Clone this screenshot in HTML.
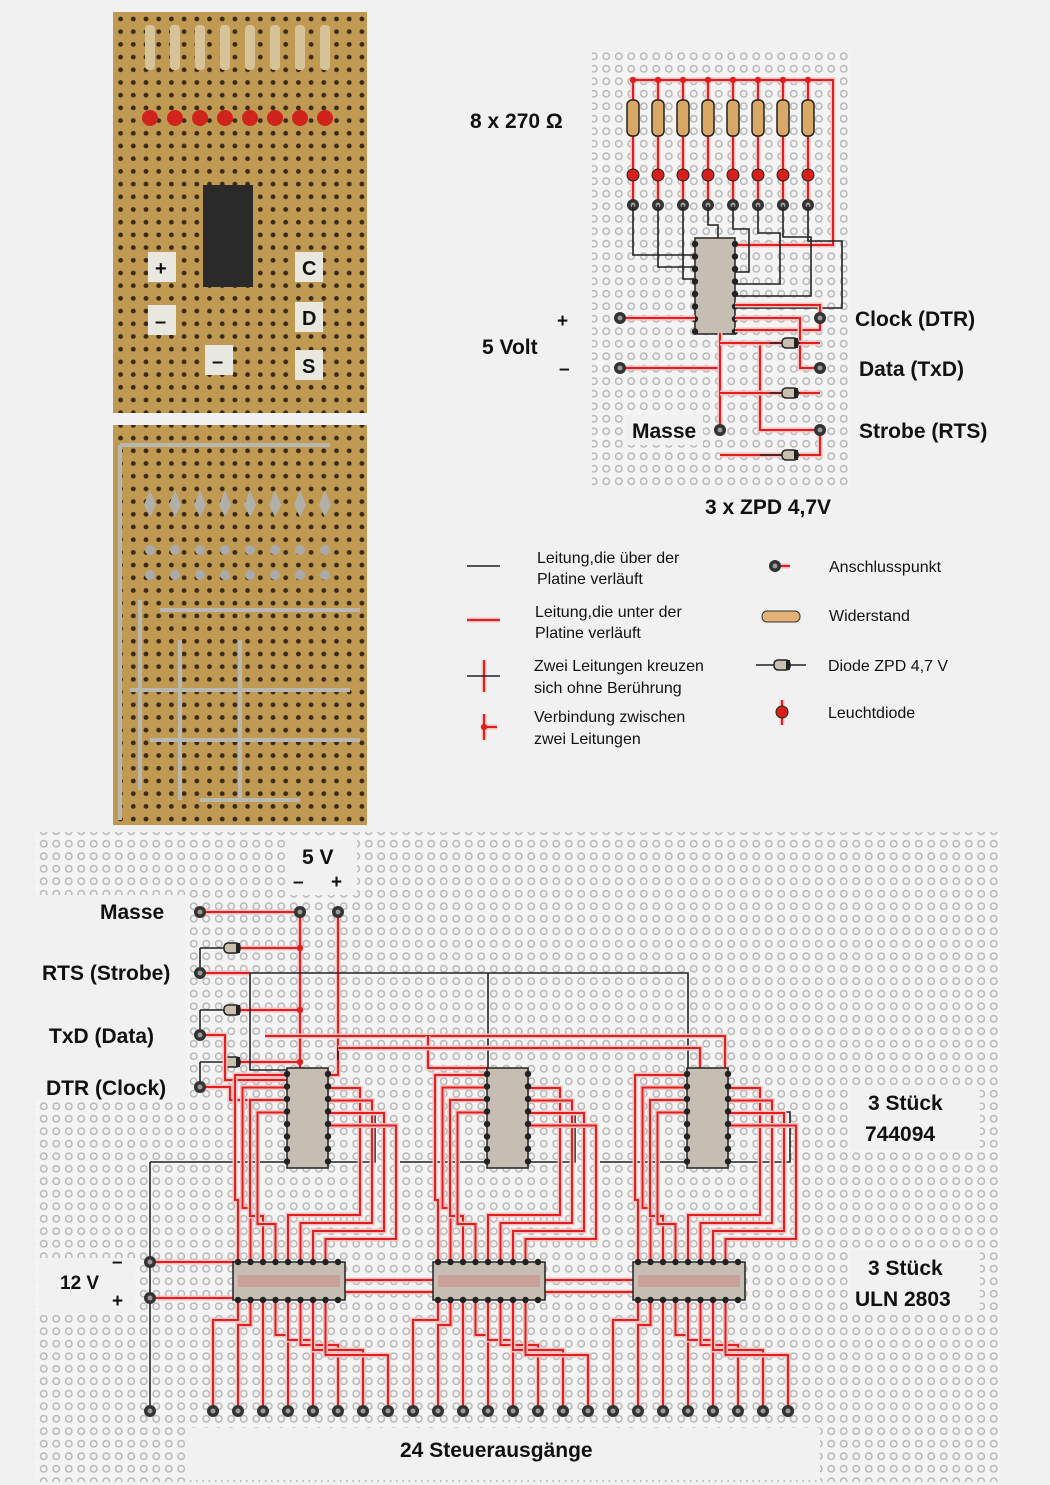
<!DOCTYPE html>
<html><head><meta charset="utf-8">
<style>
html,body{margin:0;padding:0;background:#f1f1f1;}
svg{display:block;}
text{font-family:"Liberation Sans",sans-serif;font-weight:bold;fill:#111;}
.lg{font-weight:normal;font-size:16px;}
</style></head>
<body>
<svg id="s" width="1050" height="1485" viewBox="0 0 1050 1485" xmlns="http://www.w3.org/2000/svg">
<defs>
<pattern id="g" x="0" y="0" width="12.5" height="12.5" patternUnits="userSpaceOnUse">
<rect width="12.5" height="12.5" fill="#f4f4f4"/>
<circle cx="6.25" cy="6.25" r="3.2" fill="none" stroke="#bcbcbc" stroke-width="1.6"/>
</pattern>
<pattern id="p" x="0" y="0" width="12.7" height="12.7" patternUnits="userSpaceOnUse">
<rect width="12.7" height="12.7" fill="#c09a52"/>
<circle cx="6.3" cy="6.3" r="2.4" fill="#3a2a14"/>
</pattern>
</defs>
<rect x="113" y="12" width="254" height="401" fill="url(#p)"/>
<rect x="113" y="425" width="254" height="400" fill="url(#p)"/>
<g id="ph"></g>
<rect x="592" y="52" width="258" height="434" fill="url(#g)"/>
<rect x="625" y="415" width="78" height="30" fill="#f1f1f1"/>
<g id="tr"></g>
<rect x="35" y="832" width="965" height="650" fill="url(#g)"/>
<rect x="35" y="895" width="150" height="205" fill="#f1f1f1"/>
<rect x="285" y="840" width="72" height="55" fill="#f1f1f1"/>
<rect x="850" y="1085" width="130" height="65" fill="#f1f1f1"/>
<rect x="850" y="1250" width="130" height="65" fill="#f1f1f1"/>
<rect x="40" y="1258" width="95" height="55" fill="#f1f1f1"/>
<rect x="185" y="1428" width="635" height="52" fill="#f1f1f1"/>
<g id="bb"></g>
<text x="470" y="128" font-size="21">8 x 270 Ω</text>
<text x="482" y="354" font-size="21">5 Volt</text>
<text x="557" y="327" font-size="19">+</text>
<text x="559" y="375" font-size="19">–</text>
<text x="855" y="326" font-size="21">Clock (DTR)</text>
<text x="859" y="376" font-size="21">Data (TxD)</text>
<text x="859" y="438" font-size="21">Strobe (RTS)</text>
<text x="632" y="438" font-size="21">Masse</text>
<text x="705" y="514" font-size="21">3 x ZPD 4,7V</text>
<text class="lg" x="537" y="563">Leitung,die über der</text>
<text class="lg" x="537" y="584">Platine verläuft</text>
<text class="lg" x="535" y="617">Leitung,die unter der</text>
<text class="lg" x="535" y="638">Platine verläuft</text>
<text class="lg" x="534" y="671">Zwei Leitungen kreuzen</text>
<text class="lg" x="534" y="693">sich ohne Berührung</text>
<text class="lg" x="534" y="722">Verbindung zwischen</text>
<text class="lg" x="534" y="744">zwei Leitungen</text>
<text class="lg" x="829" y="572">Anschlusspunkt</text>
<text class="lg" x="829" y="621">Widerstand</text>
<text class="lg" x="828" y="671">Diode ZPD 4,7 V</text>
<text class="lg" x="828" y="718">Leuchtdiode</text>
<text x="302" y="864" font-size="21">5 V</text>
<text x="293" y="888" font-size="19">–</text>
<text x="331" y="888" font-size="19">+</text>
<text x="100" y="919" font-size="21">Masse</text>
<text x="42" y="980" font-size="21">RTS (Strobe)</text>
<text x="49" y="1043" font-size="21">TxD (Data)</text>
<text x="46" y="1095" font-size="21">DTR (Clock)</text>
<text x="868" y="1110" font-size="21">3 Stück</text>
<text x="865" y="1141" font-size="21">744094</text>
<text x="868" y="1275" font-size="21">3 Stück</text>
<text x="855" y="1306" font-size="21">ULN 2803</text>
<text x="60" y="1289" font-size="19">12 V</text>
<text x="112" y="1268" font-size="19">–</text>
<text x="112" y="1307" font-size="19">+</text>
<text x="400" y="1457" font-size="21">24 Steuerausgänge</text>
</svg>
<script>
var NS="http://www.w3.org/2000/svg";
function el(par,t,a){var e=document.createElementNS(NS,t);for(var k in a)e.setAttribute(k,a[k]);document.getElementById(par).appendChild(e);return e;}
function L(par,pts,c,w){el(par,"polyline",{points:pts.map(p=>p.join(",")).join(" "),fill:"none",stroke:c,"stroke-width":w||2});}
function R(par,pts){L(par,pts,"#f7c0c0",5);L(par,pts,"#e02020",2);}
function B(par,pts){L(par,pts,"#222",1.6);}
function term(par,x,y){el(par,"circle",{cx:x,cy:y,r:6,fill:"#333"});el(par,"circle",{cx:x,cy:y,r:2.5,fill:"#999"});}
function dot(par,x,y,c){el(par,"circle",{cx:x,cy:y,r:3.2,fill:c||"#222"});}
function diode(par,x,y){el(par,"rect",{x:x-8,y:y-5,width:16,height:10,rx:4,fill:"#c9c0b0",stroke:"#222","stroke-width":1.5});el(par,"rect",{x:x+4,y:y-5,width:4,height:10,fill:"#222"});}
function chipV(par,x,y,w,h,n){el(par,"rect",{x:x,y:y,width:w,height:h,fill:"#c6beb2",stroke:"#222","stroke-width":1.5});for(var i=0;i<n;i++){dot(par,x,y+6+i*12.5);dot(par,x+w,y+6+i*12.5);}}
function chipH(par,x,y,w,h,n){el(par,"rect",{x:x,y:y,width:w,height:h,fill:"#c6beb2",stroke:"#222","stroke-width":1.5});for(var i=0;i<n;i++){dot(par,x+5+i*12.5,y);dot(par,x+5+i*12.5,y+h);}}
for(var i=0;i<8;i++){var x=150+i*25;el("ph","rect",{x:x-5,y:25,width:10,height:45,rx:4,fill:"#d7c39a"});el("ph","circle",{cx:x,cy:118,r:8,fill:"#d0231c"});
el("ph","path",{d:"M"+x+" 490 l-6 15 l6 12 l6-12z",fill:"#b0b0a8"});el("ph","circle",{cx:x,cy:550,r:5,fill:"#aaa"});el("ph","circle",{cx:x,cy:575,r:5,fill:"#aaa"});}
el("ph","rect",{x:203,y:185,width:50,height:102,fill:"#2a2a2a"});
[[148,252,"+"],[148,305,"–"],[295,252,"C"],[295,302,"D"],[205,345,"–"],[295,350,"S"]].forEach(function(a){el("ph","rect",{x:a[0],y:a[1],width:28,height:30,fill:"#e8e8e0"});var t=el("ph","text",{x:a[0]+7,y:a[1]+23,"font-size":"20"});t.textContent=a[2];});
var bp=[[120,445,120,820],[120,445,330,445],[140,600,140,790],[160,610,360,610],[130,690,350,690],[150,740,360,740],[180,640,180,800],[240,640,240,800],[200,800,300,800]];
bp.forEach(function(a){el("ph","line",{x1:a[0],y1:a[1],x2:a[2],y2:a[3],stroke:"#b8b8b0","stroke-width":4});});
var cols=[633,658,683,708,733,758,783,808];
R("tr",[[633,80],[833,80],[833,245],[735,245]]);
cols.forEach(function(x,i){R("tr",[[x,80],[x,205]]);dot("tr",x,80,"#e02020");
el("tr","rect",{x:x-6,y:100,width:12,height:36,rx:5,fill:"#d9a866",stroke:"#222","stroke-width":1.5});
el("tr","circle",{cx:x,cy:175,r:6,fill:"#d91f1a",stroke:"#222"});term("tr",x,205);
if(i<3){B("tr",[[x,205],[x,255+i*12],[695,255+i*12]]);}else{B("tr",[[x,205],[x,225+(i-3)*4],[x+ (i-3)*6+10,225+(i-3)*4],[x+(i-3)*6+10,260+(i-3)*12],[735,260+(i-3)*12]]);}});
chipV("tr",695,238,40,96,8);
R("tr",[[620,318],[695,318]]);R("tr",[[620,368],[720,368]]);R("tr",[[720,333],[720,430]]);
R("tr",[[735,330],[820,330],[820,305],[735,305]]);R("tr",[[735,318],[800,318],[800,368],[820,368]]);R("tr",[[760,343],[760,430],[820,430]]);
R("tr",[[720,393],[820,393]]);R("tr",[[720,455],[820,455],[820,430]]);R("tr",[[720,343],[820,343]]);
B("tr",[[770,343],[800,343]]);B("tr",[[770,393],[800,393]]);B("tr",[[760,455],[800,455]]);
diode("tr",790,343);diode("tr",790,393);diode("tr",790,455);
[[620,318],[620,368],[720,430],[820,318],[820,368],[820,430]].forEach(a=>term("tr",a[0],a[1]));
B("bb",[[467,566],[500,566]]);R("bb",[[467,620],[500,620]]);
R("bb",[[484,660],[484,692]]);B("bb",[[467,676],[500,676]]);
R("bb",[[484,714],[484,740]]);R("bb",[[484,727],[497,727]]);dot("bb",484,727,"#e02020");
term("bb",775,566);R("bb",[[781,566],[790,566]]);
el("bb","rect",{x:762,y:611,width:38,height:11,rx:5,fill:"#e3b277",stroke:"#333"});
B("bb",[[756,665],[806,665]]);diode("bb",782,665);
R("bb",[[782,700],[782,725]]);el("bb","circle",{cx:782,cy:712,r:6,fill:"#d91f1a",stroke:"#222"});
R("bb",[[200,912],[300,912]]);R("bb",[[300,912],[300,1070]]);R("bb",[[338,912],[338,1075],[328,1075]]);
[948,1010,1062].forEach(function(y){B("bb",[[200,y],[200,y+25]]);B("bb",[[200,y],[225,y]]);R("bb",[[240,y],[300,y]]);dot("bb",300,y,"#e02020");diode("bb",232,y);});
R("bb",[[200,973],[250,973]]);B("bb",[[250,973],[688,973],[688,1068]]);B("bb",[[488,973],[488,1068]]);B("bb",[[250,973],[250,1070],[287,1070]]);
R("bb",[[200,1035],[225,1035],[225,1080],[287,1080]]);R("bb",[[265,1036],[725,1036],[725,1070]]);R("bb",[[428,1036],[428,1068],[487,1068]]);
R("bb",[[200,1087],[230,1087],[230,1100],[287,1100]]);B("bb",[[338,1048],[338,1060]]);R("bb",[[338,1048],[700,1048],[700,1068]]);
B("bb",[[150,1162],[375,1162],[375,1112],[328,1112]]);B("bb",[[400,1162],[575,1162],[575,1112],[528,1112]]);B("bb",[[600,1162],[790,1162],[790,1112],[728,1112]]);
B("bb",[[150,1162],[150,1411]]);
R("bb",[[150,1262],[238,1262]]);R("bb",[[150,1298],[238,1298]]);R("bb",[[345,1280],[433,1280]]);R("bb",[[545,1280],[633,1280]]);
R("bb",[[345,1292],[433,1292]]);R("bb",[[545,1292],[633,1292]]);
for(var k=0;k<3;k++){var dx=k*200;
 for(var i=0;i<8;i++){var py=1075+i*12.5;var lx=275+dx-i*12.5;var ux=238+dx+i*12.5;
  if(i<4){R("bb",[[287+dx,py],[lx-40+i*20,py],[lx-40+i*20,1200+i*8],[ux,1200+i*8],[ux,1262]]);}
  else{R("bb",[[328+dx,py-37],[360+dx+(i-4)*12,py-37],[360+dx+(i-4)*12,1215+(i-4)*8],[ux,1215+(i-4)*8],[ux,1262]]);}
  var ox=213+dx+i*25;R("bb",[[ux,1298],[ux,1320+i*5],[ox,1320+i*5],[ox,1411]]);term("bb",ox,1411);}
 chipV("bb",287+dx,1068,41,100,8);chipH("bb",233+dx,1262,112,38,9);
 el("bb","rect",{x:238+dx,y:1275,width:102,height:12,fill:"#c9a09a"});
}
term("bb",150,1411);term("bb",788,1411);
[[200,912],[300,912],[338,912],[200,973],[200,1035],[200,1087],[150,1262],[150,1298]].forEach(a=>term("bb",a[0],a[1]));
</script>
</body></html>
